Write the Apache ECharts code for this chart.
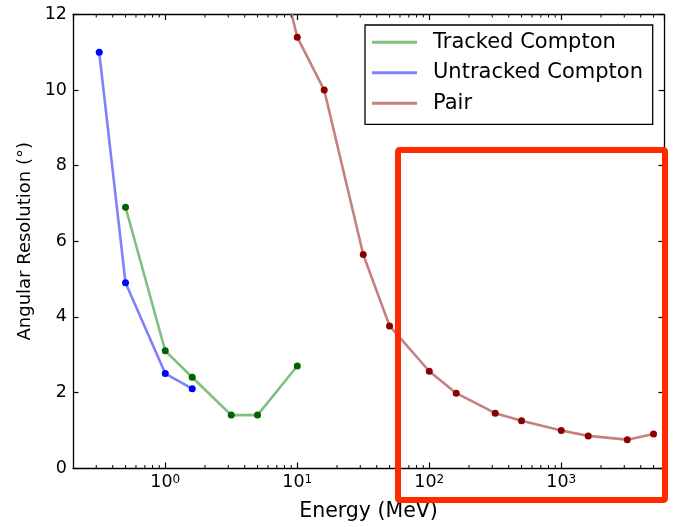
<!DOCTYPE html>
<html>
<head>
<meta charset="utf-8">
<script src="https://cdn.jsdelivr.net/npm/echarts@6/dist/echarts.min.js"></script>
<style>
  html, body { margin: 0; padding: 0; background: #fff; }
  #root { width: 673px; height: 527px; }
</style>
</head>
<body>
<div id="root"></div>
<script>
// energies in MeV, angular resolution in degrees
const trackedX = [0.5, 1.0, 1.6, 3.16, 5.0, 10.0]
const trackedY = [6.9, 3.1, 2.4, 1.4, 1.4, 2.7]

const untrackedX = [0.316, 0.5, 1.0, 1.6]
const untrackedY = [11.0, 4.9, 2.5, 2.1]

const pairX = [5.0, 10.0, 16.0, 31.6, 50.0, 100, 160, 316, 500, 1000, 1600, 3160, 5000]
const pairY = [15.7, 11.4, 10.0, 5.65, 3.76, 2.56, 1.98, 1.45, 1.25, 0.99, 0.85, 0.75, 0.90]

const yTicks = [0, 2, 4, 6, 8, 10, 12]
const xMin = 0.2
const xMax = 6000

// minor ticks of the log axis (2..9 per decade)
const minorTicks = []
for (let d = -1; d <= 3; d++) {
  for (let m = 2; m <= 9; m++) {
    const v = m * Math.pow(10, d)
    if (v > xMin && v < xMax) minorTicks.push(v)
  }
}

const pairs = (xs, ys) => xs.map((x, i) => [x, ys[i]])
const FONT = 'DejaVu Sans'

const chart = echarts.init(document.getElementById('root'), null, { renderer: 'canvas' })

const lineSeries = (name, xs, ys, lineColor, dotColor) => ({
  name: name,
  type: 'line',
  data: pairs(xs, ys),
  symbol: 'circle',
  symbolSize: 7,
  showSymbol: true,
  lineStyle: { color: lineColor, width: 2.6 },
  itemStyle: { color: dotColor, borderWidth: 0 },
  emphasis: { disabled: true },
  clip: true,
  z: 3
})

const axisLine = { show: true, onZero: false, lineStyle: { color: '#000', width: 1.3 } }
const majorTick = { show: true, inside: true, length: 5.5, lineStyle: { color: '#000', width: 1.2 } }

const option = {
  animation: false,
  backgroundColor: '#fff',
  textStyle: { fontFamily: FONT },
  grid: { left: 73, right: 9, top: 14.5, bottom: 59, containLabel: false },
  xAxis: [{
    type: 'log',
    logBase: 10,
    min: xMin,
    max: xMax,
    position: 'bottom',
    name: 'Energy (MeV)',
    nameLocation: 'middle',
    nameGap: 33,
    nameTextStyle: { fontFamily: FONT, fontSize: 20.5, color: '#000' },
    axisLine: axisLine,
    axisTick: majorTick,
    splitLine: { show: false },
    axisLabel: {
      margin: 6,
      showMinLabel: false,
      showMaxLabel: false,
      formatter: v => '{b|10}{s|' + Math.round(Math.log10(v)) + '}',
      rich: {
        b: { fontFamily: FONT, fontSize: 17.5, color: '#000', lineHeight: 17, padding: [5, 0, 0, 0], verticalAlign: 'bottom' },
        s: { fontFamily: FONT, fontSize: 12, color: '#000', lineHeight: 12, verticalAlign: 'top' }
      }
    }
  }, {
    type: 'log',
    logBase: 10,
    min: xMin,
    max: xMax,
    position: 'top',
    axisLine: axisLine,
    axisTick: majorTick,
    axisLabel: { show: false },
    splitLine: { show: false }
  }],
  yAxis: [{
    type: 'value',
    min: yTicks[0],
    max: yTicks[yTicks.length - 1],
    interval: 2,
    position: 'left',
    name: 'Angular Resolution (°)',
    nameLocation: 'middle',
    nameGap: 35,
    nameTextStyle: { fontFamily: FONT, fontSize: 18, color: '#000' },
    axisLine: axisLine,
    axisTick: majorTick,
    splitLine: { show: false },
    axisLabel: { margin: 6, fontFamily: FONT, fontSize: 17.5, color: '#000' }
  }, {
    type: 'value',
    min: yTicks[0],
    max: yTicks[yTicks.length - 1],
    interval: 2,
    position: 'right',
    axisLine: axisLine,
    axisTick: majorTick,
    axisLabel: { show: false },
    splitLine: { show: false }
  }],
  legend: {
    left: 365,
    top: 25,
    orient: 'vertical',
    padding: [5.3, 9.7, 9, 7],
    itemGap: 6.5,
    itemWidth: 45,
    itemHeight: 3,
    borderColor: '#000',
    borderWidth: 1.3,
    borderRadius: 0,
    backgroundColor: '#fff',
    selectedMode: false,
    textStyle: { fontFamily: FONT, fontSize: 21, color: '#000', lineHeight: 24, padding: [0, 0, 0, 11] },
    data: [
      { name: 'Tracked Compton', icon: 'rect', itemStyle: { color: '#80bf80' } },
      { name: 'Untracked Compton', icon: 'rect', itemStyle: { color: '#8080ff' } },
      { name: 'Pair', icon: 'rect', itemStyle: { color: '#c58080' } }
    ]
  },
  series: [
    lineSeries('Tracked Compton', trackedX, trackedY, '#80bf80', '#006400'),
    lineSeries('Untracked Compton', untrackedX, untrackedY, '#8080ff', '#0000ff'),
    lineSeries('Pair', pairX, pairY, '#c58080', '#8b0000'),
    {
      name: 'minor ticks',
      type: 'custom',
      silent: true,
      data: minorTicks.map(v => [v]),
      encode: { x: 0 },
      renderItem: (params, api) => {
        const v = api.value(0)
        const b = api.coord([v, yTicks[0]])
        const t = api.coord([v, yTicks[yTicks.length - 1]])
        const st = { stroke: '#000', lineWidth: 1 }
        return {
          type: 'group',
          children: [
            { type: 'line', shape: { x1: b[0], y1: b[1], x2: b[0], y2: b[1] - 3 }, style: st },
            { type: 'line', shape: { x1: t[0], y1: t[1], x2: t[0], y2: t[1] + 3 }, style: st }
          ]
        }
      },
      z: 5
    }
  ],
  graphic: [{
    type: 'rect',
    shape: { x: 398, y: 150, width: 267, height: 350, r: 1.5 },
    style: { fill: 'none', stroke: '#ff2a00', lineWidth: 6, lineJoin: 'round' },
    z: 100
  }]
}

chart.setOption(option)
</script>
</body>
</html>
